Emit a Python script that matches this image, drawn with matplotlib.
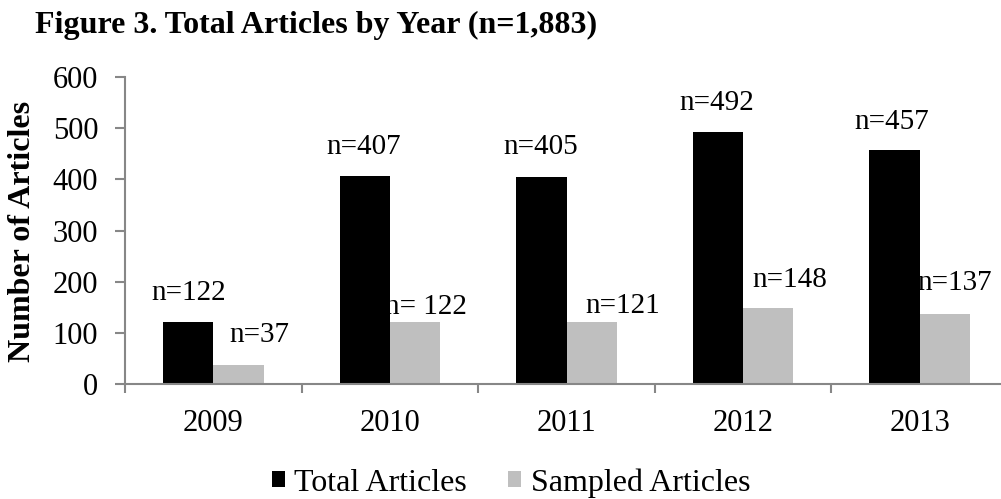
import matplotlib
matplotlib.use("Agg")
import matplotlib.pyplot as plt
import numpy as np

# ---- data ----
years = ["2009", "2010", "2011", "2012", "2013"]
total_articles = [122, 407, 405, 492, 457]
sampled_articles = [37, 122, 121, 148, 137]
total_labels = ["n=122", "n=407", "n=405", "n=492", "n=457"]
sampled_labels = ["n=37", "n= 122", "n=121", "n=148", "n=137"]
y_ticks = [0, 100, 200, 300, 400, 500, 600]

# ---- label layout (offsets from bar group centre / bar top) ----
total_dx = [-0.141, -0.147, -0.147, -0.147, -0.158]
total_dy = [56, 56, 58, 57, 55]
sampled_dx = [0.26, 0.203, 0.316, 0.266, 0.198]
sampled_dy = [59, 28, 31, 55, 60]

plt.rcParams['font.family'] = ['Liberation Serif', 'DejaVu Serif']

W, H = 1001, 499
fig = plt.figure(figsize=(W / 100, H / 100), dpi=100)
ax = fig.add_axes([125 / W, (H - 384) / H, 883 / W, 307 / H])

x = np.arange(len(years))
bw = 0.285
ax.bar(x - bw / 2, total_articles, bw, color="black", label="Total Articles")
ax.bar(x + bw / 2, sampled_articles, bw, color="#bfbfbf", label="Sampled Articles")

for i in range(len(years)):
    ax.text(x[i] + total_dx[i], total_articles[i] + total_dy[i], total_labels[i],
            ha="center", va="center", fontsize=21)
    ax.text(x[i] + sampled_dx[i], sampled_articles[i] + sampled_dy[i], sampled_labels[i],
            ha="center", va="center", fontsize=21)

ax.set_xlim(-0.5, len(years) - 0.5)
ax.set_ylim(0, 600)
ax.set_yticks(y_ticks)
ax.set_yticklabels([str(v) for v in y_ticks], fontsize=22)
ax.set_xticks(x)
ax.set_xticklabels(years, fontsize=22)
ax.set_xticks(np.arange(-0.5, len(years), 1.0), minor=True)
ax.tick_params(axis="x", which="major", length=0, pad=18)
ax.tick_params(axis="x", which="minor", length=6.5, width=1.5, color="#878787", direction="out")
ax.tick_params(axis="y", length=7.2, width=1.5, color="#878787", direction="out", pad=12)

for s in ["top", "right"]:
    ax.spines[s].set_visible(False)
for s in ["left", "bottom"]:
    ax.spines[s].set_color("#878787")
    ax.spines[s].set_linewidth(1.5)

fig.text(35 / W, 1 - 33 / H, "Figure 3. Total Articles by Year (n=1,883)",
         fontsize=23, fontweight="bold", ha="left", va="baseline")
fig.text(23 / W, 1 - 231 / H, "Number of Articles", rotation=90,
         fontsize=23, fontweight="bold", ha="center", va="center")

fig.legend(loc="center", bbox_to_anchor=(511 / W, 1 - 483 / H), ncol=2,
           frameon=False, fontsize=23, handlelength=0.4, handleheight=0.4,
           handletextpad=0.3, columnspacing=1.3, borderpad=0, borderaxespad=0)

fig.savefig("out.png", dpi=100)
